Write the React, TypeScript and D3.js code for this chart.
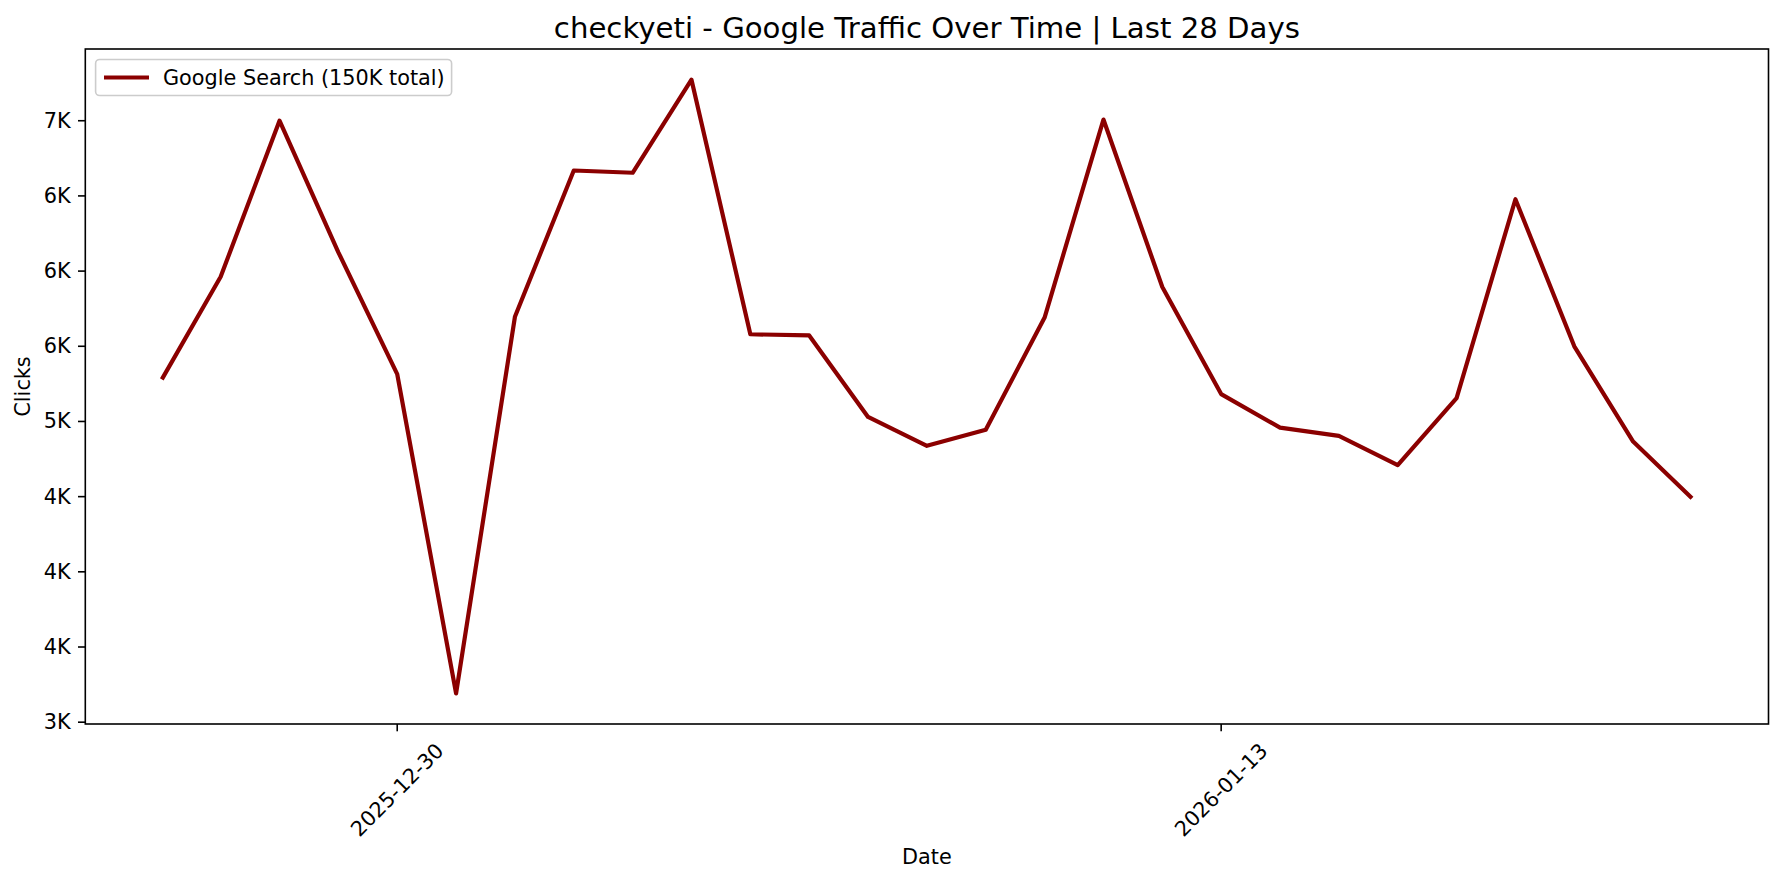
import { useEffect, useRef } from 'react';
import * as d3 from 'd3';

const dates = [
  '2025-12-26', '2025-12-27', '2025-12-28', '2025-12-29', '2025-12-30', '2025-12-31',
  '2026-01-01', '2026-01-02', '2026-01-03', '2026-01-04', '2026-01-05', '2026-01-06',
  '2026-01-07', '2026-01-08', '2026-01-09', '2026-01-10', '2026-01-11', '2026-01-12',
  '2026-01-13', '2026-01-14', '2026-01-15', '2026-01-16', '2026-01-17', '2026-01-18',
  '2026-01-19', '2026-01-20', '2026-01-21',
];

const clicks = [
  5280, 5962, 7000, 6125, 5315, 3192,
  5696, 6669, 6654, 7273, 5580, 5572,
  5030, 4838, 4945, 5691, 7008, 5894,
  5182, 4959, 4904, 4710, 5155, 6478,
  5500, 4866, 4490,
];

const yTicks = [3000, 3500, 4000, 4500, 5000, 5500, 6000, 6500, 7000];
const yTickLabels = ['3K', '4K', '4K', '4K', '5K', '6K', '6K', '6K', '7K'];
const xTicks = ['2025-12-30', '2026-01-13'];

const title = 'checkyeti - Google Traffic Over Time | Last 28 Days';
const seriesName = 'Google Search';

export default function App() {
  const svgRef = useRef<SVGSVGElement>(null);

  useEffect(() => {
    if (!svgRef.current) return;

    const width = 1784;
    const height = 883;
    const margin = { top: 49, right: 1784 - 1768.5, bottom: 883 - 724, left: 85.3 };
    const font = 'DejaVu Sans, sans-serif';
    const lineColor = '#8b0000';

    const svg = d3.select(svgRef.current);
    svg.selectAll('*').remove();
    svg.attr('width', width).attr('height', height).attr('viewBox', `0 0 ${width} ${height}`)
      .style('font-family', font);

    svg.append('rect').attr('width', width).attr('height', height).attr('fill', '#fff');

    const parse = d3.utcParse('%Y-%m-%d');
    const data = dates.map((d, i) => ({ date: parse(d)!, value: clicks[i] }));

    // matplotlib style 5% padding
    const [x0, x1] = d3.extent(data, d => +d.date) as [number, number];
    const xPad = (x1 - x0) * 0.05;
    const [y0, y1] = d3.extent(data, d => d.value) as [number, number];
    const yPad = (y1 - y0) * 0.05;

    const x = d3.scaleUtc()
      .domain([new Date(x0 - xPad), new Date(x1 + xPad)])
      .range([margin.left, width - margin.right]);
    const y = d3.scaleLinear()
      .domain([y0 - yPad, y1 + yPad])
      .range([height - margin.bottom, margin.top]);

    const line = d3.line<{ date: Date; value: number }>()
      .x(d => x(d.date))
      .y(d => y(d.value));

    svg.append('path')
      .datum(data)
      .attr('fill', 'none')
      .attr('stroke', lineColor)
      .attr('stroke-width', 4.2)
      .attr('stroke-linejoin', 'round')
      .attr('d', line);

    // Frame
    svg.append('rect')
      .attr('x', margin.left)
      .attr('y', margin.top)
      .attr('width', width - margin.left - margin.right)
      .attr('height', height - margin.top - margin.bottom)
      .attr('fill', 'none')
      .attr('stroke', '#000')
      .attr('stroke-width', 1.6);

    // Y axis ticks
    const yAxis = svg.append('g');
    yTicks.forEach((t, i) => {
      yAxis.append('line')
        .attr('x1', margin.left - 7.3).attr('x2', margin.left)
        .attr('y1', y(t)).attr('y2', y(t))
        .attr('stroke', '#000').attr('stroke-width', 1.6);
      yAxis.append('text')
        .attr('x', margin.left - 14.6)
        .attr('y', y(t))
        .attr('text-anchor', 'end')
        .attr('dominant-baseline', 'central')
        .attr('font-size', 20.8)
        .text(yTickLabels[i]);
    });

    // X axis ticks
    const bottom = height - margin.bottom;
    const xAxis = svg.append('g');
    xTicks.forEach(t => {
      const px = x(parse(t)!);
      xAxis.append('line')
        .attr('x1', px).attr('x2', px)
        .attr('y1', bottom).attr('y2', bottom + 7.3)
        .attr('stroke', '#000').attr('stroke-width', 1.6);
      xAxis.append('text')
        .attr('transform', `translate(${px},${bottom + 66}) rotate(-45)`)
        .attr('text-anchor', 'middle')
        .attr('dominant-baseline', 'central')
        .attr('font-size', 20.8)
        .text(t);
    });

    // Axis labels
    svg.append('text')
      .attr('x', (margin.left + width - margin.right) / 2)
      .attr('y', 857)
      .attr('text-anchor', 'middle')
      .attr('dominant-baseline', 'central')
      .attr('font-size', 20.8)
      .text('Date');

    svg.append('text')
      .attr('transform', `translate(23,${(margin.top + bottom) / 2}) rotate(-90)`)
      .attr('text-anchor', 'middle')
      .attr('dominant-baseline', 'central')
      .attr('font-size', 20.8)
      .text('Clicks');

    // Title
    svg.append('text')
      .attr('x', (margin.left + width - margin.right) / 2)
      .attr('y', 28)
      .attr('text-anchor', 'middle')
      .attr('dominant-baseline', 'central')
      .attr('font-size', 29.2)
      .text(title);

    // Legend
    const total = d3.sum(clicks);
    const legend = svg.append('g');
    legend.append('rect')
      .attr('x', 95.6).attr('y', 59.5)
      .attr('width', 356).attr('height', 36)
      .attr('rx', 4)
      .attr('fill', '#fff')
      .attr('fill-opacity', 0.8)
      .attr('stroke', '#ccc')
      .attr('stroke-width', 1.6);
    legend.append('line')
      .attr('x1', 104).attr('x2', 149)
      .attr('y1', 77.5).attr('y2', 77.5)
      .attr('stroke', lineColor)
      .attr('stroke-width', 4.2);
    legend.append('text')
      .attr('x', 163)
      .attr('y', 77.5)
      .attr('dominant-baseline', 'central')
      .attr('font-size', 20.8)
      .text(`${seriesName} (${Math.round(total / 1000)}K total)`);
  }, []);

  return (
    <div style={{ position: 'absolute', left: 0, top: 0 }}>
      <svg ref={svgRef} />
    </div>
  );
}
